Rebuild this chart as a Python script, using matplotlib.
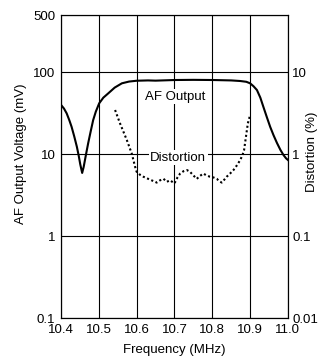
import numpy as np
import matplotlib
matplotlib.use("Agg")
import matplotlib.pyplot as plt

plt.rcParams["font.family"] = ["Liberation Sans", "DejaVu Sans"]

# AF output (mV) vs frequency (MHz)
af_freq = [10.400, 10.408, 10.415, 10.422, 10.428, 10.435, 10.442, 10.447, 10.451,
           10.456, 10.460, 10.464, 10.468, 10.472, 10.478, 10.485, 10.492, 10.501,
           10.512, 10.525, 10.542, 10.561, 10.580, 10.600, 10.630, 10.650, 10.700,
           10.750, 10.803, 10.850, 10.874, 10.890, 10.900, 10.909, 10.918, 10.927,
           10.935, 10.944, 10.953, 10.962, 10.971, 10.980, 10.988, 10.995, 11.000]
af_mv = [40.0, 36.0, 31.5, 26.0, 21.6, 16.5, 12.3, 9.5, 7.5,
         5.9, 7.0, 8.8, 11.0, 13.7, 18.5, 26.0, 33.0, 41.8,
         49.0, 55.3, 65.0, 73.3, 77.0, 78.8, 79.5, 79.0, 80.4,
         80.8, 80.4, 79.5, 78.2, 76.5, 73.3, 67.5, 60.7, 49.0,
         37.9, 28.5, 21.6, 17.0, 13.7, 11.3, 9.8, 8.9, 8.5]

# Distortion (%) vs frequency (MHz)
dist_freq = [10.543, 10.556, 10.574, 10.587, 10.596, 10.600, 10.609, 10.618, 10.626,
             10.635, 10.644, 10.653, 10.662, 10.671, 10.680, 10.688, 10.694, 10.700,
             10.708, 10.715, 10.724, 10.733, 10.741, 10.750, 10.759, 10.767, 10.776,
             10.785, 10.794, 10.803, 10.812, 10.818, 10.825, 10.832, 10.838, 10.847,
             10.856, 10.865, 10.874, 10.880, 10.884, 10.889, 10.894, 10.900]
dist_pct = [3.46, 2.38, 1.49, 1.02, 0.70, 0.61, 0.56, 0.53, 0.51,
            0.49, 0.47, 0.45, 0.48, 0.50, 0.46, 0.48, 0.46, 0.44,
            0.52, 0.58, 0.62, 0.64, 0.61, 0.55, 0.50, 0.54, 0.58,
            0.55, 0.53, 0.52, 0.50, 0.47, 0.45, 0.49, 0.53, 0.58,
            0.64, 0.73, 0.85, 0.98, 1.12, 1.63, 2.38, 3.0]

x_ticks = [10.4, 10.5, 10.6, 10.7, 10.8, 10.9, 11.0]
left_ticks = [0.1, 1, 10, 100, 500]
right_ticks = [0.01, 0.1, 1, 10]

fs = 9.5

fig = plt.figure(figsize=(3.21, 3.59), dpi=100)
ax = fig.add_axes([0.190, 0.1142, 0.707, 0.8440])
ax.set_yscale("log")
ax.set_xlim(10.4, 11.0)
ax.set_ylim(0.1, 500)
ax.set_xticks(x_ticks)
ax.set_xticklabels([f"{v:.1f}" for v in x_ticks])
ax.set_yticks(left_ticks)
ax.set_yticklabels(["0.1", "1", "10", "100", "500"])
ax.minorticks_off()
ax.tick_params(length=0, pad=4, labelsize=fs)
ax.grid(True, color="black", lw=0.8)
for s in ax.spines.values():
    s.set_linewidth(0.8)

ax.plot(af_freq, af_mv, color="black", lw=1.5, zorder=3)

ax2 = ax.twinx()
ax2.set_yscale("log")
ax2.set_ylim(0.01, 50)
ax2.set_yticks(right_ticks)
ax2.set_yticklabels(["0.01", "0.1", "1", "10"])
ax2.minorticks_off()
ax2.tick_params(length=0, pad=3, labelsize=fs)
ax2.plot(dist_freq, dist_pct, color="black", lw=1.5, ls=(0, (1, 1.2)), zorder=3)

box = dict(facecolor="white", edgecolor="none", pad=1)
ax.text(10.622, 50, "AF Output", fontsize=fs, va="center", ha="left", bbox=box, zorder=4)
ax.text(10.636, 9.0, "Distortion", fontsize=fs, va="center", ha="left", bbox=box, zorder=4)

ax.set_xlabel("Frequency (MHz)", fontsize=fs, labelpad=6)
ax.set_ylabel("AF Output Voltage (mV)", fontsize=fs)
ax.yaxis.set_label_coords(-0.150, 0.541)
ax2.set_ylabel("Distortion (%)", fontsize=fs)
ax2.yaxis.set_label_coords(1.079, 0.548)

fig.savefig("out.png", dpi=100)
